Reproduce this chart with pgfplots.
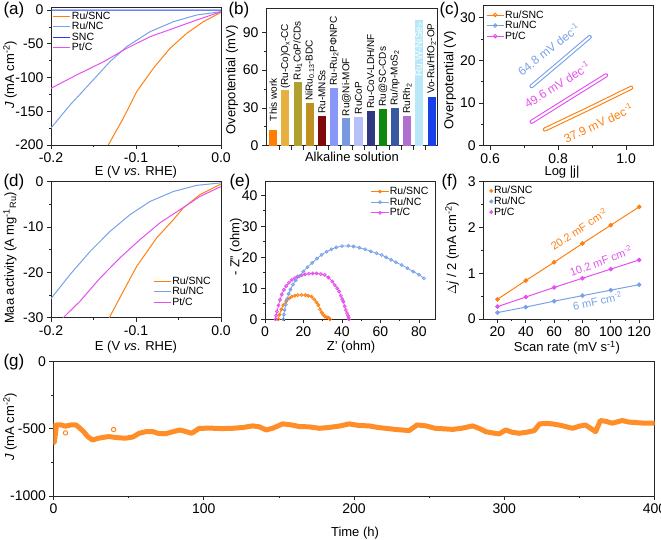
\documentclass[border=0pt]{standalone}
\usepackage{fontspec}
\setmainfont{Liberation Sans}
\usepackage{pgfplots}
\pgfplotsset{compat=1.18}
\definecolor{cOr}{RGB}{255,128,16}
\definecolor{cBl}{RGB}{120,162,232}
\definecolor{cDb}{RGB}{40,60,230}
\definecolor{cMg}{RGB}{230,80,240}
\definecolor{b1}{RGB}{255,128,0}
\definecolor{b2}{RGB}{232,176,64}
\definecolor{b3}{RGB}{176,160,48}
\definecolor{b4}{RGB}{192,144,32}
\definecolor{b5}{RGB}{128,10,10}
\definecolor{b6}{RGB}{136,152,248}
\definecolor{b7}{RGB}{120,152,224}
\definecolor{b8}{RGB}{184,192,248}
\definecolor{b9}{RGB}{48,56,128}
\definecolor{b10}{RGB}{16,136,16}
\definecolor{b11}{RGB}{56,88,160}
\definecolor{b12}{RGB}{176,112,208}
\definecolor{b13}{RGB}{184,232,248}
\definecolor{b14}{RGB}{24,64,232}
\newcommand{\lf}{\fontsize{13}{13}\selectfont}
\newcommand{\pf}{\fontsize{17}{17}\selectfont}
\pgfplotsset{every axis/.append style={scale only axis, anchor=south west,
  tick align=outside, tick pos=left,
  axis line style={black!85, line width=0.8pt},
  every tick/.append style={black!85, line width=0.7pt},
  major tick length=4pt, minor tick length=2.2pt, minor tick num=1,
  tick label style={font=\fontsize{14}{14}\selectfont},
  /pgf/number format/assume math mode=true,
  /pgf/number format/1000 sep={},
  legend cell align=left,
  legend style={draw=none, fill=none, font=\fontsize{10.5}{10.5}\selectfont,
    row sep=-0.5pt, inner sep=0pt, nodes={inner sep=1pt}}}}
\begin{document}
\begin{tikzpicture}
\useasboundingbox (0pt,0pt) rectangle (661pt,540pt);
% ---------------- (a)
\begin{axis}[at={(51pt,395pt)}, width=170pt, height=138pt,
  xmin=-0.2, xmax=0, ymin=-200, ymax=4.5,
  xtick={-0.2,-0.1,0}, ytick={-200,-150,-100,-50,0},
  xticklabel style={/pgf/number format/fixed,/pgf/number format/fixed zerofill,/pgf/number format/precision=1},
  legend style={at={(rel axis cs:0.01,0.975)}, anchor=north west}]
\addplot[cOr, line width=1pt] coordinates {(-0.1326,-200) (-0.115,-160.5) (-0.0992,-121) (-0.0796,-86.4) (-0.06,-56.8) (-0.0404,-34.6) (-0.0208,-17.3) (0,-3.5)};
\addplot[cBl, line width=1pt] coordinates {(-0.2,-175) (-0.1776,-140.7) (-0.154,-108.6) (-0.1306,-76.5) (-0.111,-54.3) (-0.0835,-32.1) (-0.056,-17.3) (-0.0286,-7.4) (0,-2.5)};
\addplot[cDb, line width=1pt] coordinates {(-0.2,-0.3) (-0.1,-0.3) (0,-0.2)};
\addplot[cMg, line width=1pt] coordinates {(-0.2,-116) (-0.17,-96.3) (-0.138,-76.5) (-0.111,-56.8) (-0.0835,-39.5) (-0.056,-27.2) (-0.0286,-14.8) (0,-2.5)};
\legend{Ru/SNC, Ru/NC, SNC, Pt/C}
\end{axis}
% ---------------- (b)
\begin{axis}[at={(266pt,394.3pt)}, width=171pt, height=137.7pt,
  xmin=0.4, xmax=14.45, ymin=0, ymax=109.3,
  ytick={0,30,60,90}, xtick={1.5,2.5,...,13.5}, xticklabels={}, minor x tick num=0]
\addplot[ybar, bar width=0.66, bar shift=0pt, fill=b1, draw=none] coordinates {(1,12.4)};
\addplot[ybar, bar width=0.66, bar shift=0pt, fill=b2, draw=none] coordinates {(2,44.2)};
\addplot[ybar, bar width=0.66, bar shift=0pt, fill=b3, draw=none] coordinates {(3,50.8)};
\addplot[ybar, bar width=0.66, bar shift=0pt, fill=b4, draw=none] coordinates {(4,33.6)};
\addplot[ybar, bar width=0.66, bar shift=0pt, fill=b5, draw=none] coordinates {(5,23.8)};
\addplot[ybar, bar width=0.66, bar shift=0pt, fill=b6, draw=none] coordinates {(6,45.5)};
\addplot[ybar, bar width=0.66, bar shift=0pt, fill=b7, draw=none] coordinates {(7,21.7)};
\addplot[ybar, bar width=0.66, bar shift=0pt, fill=b8, draw=none] coordinates {(8,23)};
\addplot[ybar, bar width=0.66, bar shift=0pt, fill=b9, draw=none] coordinates {(9,27.8)};
\addplot[ybar, bar width=0.66, bar shift=0pt, fill=b10, draw=none] coordinates {(10,29.1)};
\addplot[ybar, bar width=0.66, bar shift=0pt, fill=b11, draw=none] coordinates {(11,30.2)};
\addplot[ybar, bar width=0.66, bar shift=0pt, fill=b12, draw=none] coordinates {(12,23.8)};
\addplot[ybar, bar width=0.66, bar shift=0pt, fill=b13, draw=none] coordinates {(13,99.7)};
\addplot[ybar, bar width=0.66, bar shift=0pt, fill=b14, draw=none] coordinates {(14,38.9)};
\begin{scope}[every node/.style={rotate=90, anchor=west, inner sep=0.5pt, font=\fontsize{10}{10}\selectfont}]
\node at (axis cs:1,19) {This work};
\node at (axis cs:2,44.5) {(Ru-Co)O\textsubscript{x}-CC};
\node at (axis cs:3,51.5) {Ru\textsubscript{1}CoP/CDs};
\node at (axis cs:4,35) {NiRu\textsubscript{0.13}-BDC};
\node at (axis cs:5,25) {Ru-MNSs};
\node at (axis cs:6,47) {Ru-Ru\textsubscript{2}PΦNPC};
\node at (axis cs:7,23) {Ru@Ni-MOF};
\node at (axis cs:8,24.5) {RuCoP};
\node at (axis cs:9,29) {Ru-CoV-LDH/NF};
\node at (axis cs:10,30.5) {Ru@SC-CDs};
\node at (axis cs:11,31.5) {Ru/np-MoS\textsubscript{2}};
\node at (axis cs:12,25) {RuRh\textsubscript{2}};
\node[anchor=east, text=white] at (axis cs:13,98.5) {Ru,W-NiSe\textsubscript{2}};
\node at (axis cs:14,40.5) {Vo-Ru/HfO\textsubscript{2}-OP};
\end{scope}
\end{axis}
% ---------------- (c)
\begin{axis}[at={(483.3pt,394.3pt)}, width=170pt, height=140.7pt,
  xmin=0.58, xmax=1.08, ymin=0, ymax=33,
  xtick={0.6,0.8,1.0}, ytick={0,10,20,30},
  xticklabel style={/pgf/number format/fixed,/pgf/number format/fixed zerofill,/pgf/number format/precision=1},
  legend style={at={(rel axis cs:0.016,0.97)}, anchor=north west}]
\addplot[forget plot, cBl, line width=1.1pt, double=white, double distance=2pt, line cap=round] coordinates {(0.722,13.95) (0.80,19.2) (0.893,25.5)};
\addplot[forget plot, cMg, line width=1.1pt, double=white, double distance=2pt, line cap=round] coordinates {(0.722,5.6) (0.83,11.0) (0.941,16.5)};
\addplot[forget plot, cOr, line width=1.1pt, double=white, double distance=2pt, line cap=round] coordinates {(0.761,3.8) (0.89,8.7) (1.015,13.6)};
\addlegendimage{cOr, line width=0.9pt, mark=o, mark size=1.8pt}
\addlegendentry{Ru/SNC}
\addlegendimage{cBl, line width=0.9pt, mark=o, mark size=1.8pt}
\addlegendentry{Ru/NC}
\addlegendimage{cMg, line width=0.9pt, mark=o, mark size=1.8pt}
\addlegendentry{Pt/C}
\node[rotate=38, text=cBl, font=\fontsize{12}{12}\selectfont] at (axis cs:0.772,22.6) {64.8 mV dec\textsuperscript{-1}};
\node[rotate=32, text=cMg, font=\fontsize{12}{12}\selectfont] at (axis cs:0.797,14.3) {49.6 mV dec\textsuperscript{-1}};
\node[rotate=25, text=cOr, font=\fontsize{12}{12}\selectfont] at (axis cs:0.918,5.3) {37.9 mV dec\textsuperscript{-1}};
\end{axis}
% ---------------- (d)
\begin{axis}[at={(51pt,222.3pt)}, width=170pt, height=136.2pt,
  xmin=-0.2, xmax=0, ymin=-30, ymax=0,
  xtick={-0.2,-0.1,0}, ytick={-30,-20,-10,0},
  xticklabel style={/pgf/number format/fixed,/pgf/number format/fixed zerofill,/pgf/number format/precision=1},
  legend style={at={(rel axis cs:0.6,0.31)}, anchor=north west}]
\addplot[cOr, line width=1pt] coordinates {(-0.1314,-30) (-0.115,-24.2) (-0.0992,-18.7) (-0.0756,-12.4) (-0.056,-8.4) (-0.0443,-5.8) (-0.0247,-2.9) (0,-0.55)};
\addplot[cBl, line width=1pt] coordinates {(-0.2,-25.8) (-0.1776,-20.5) (-0.154,-15.4) (-0.1306,-11) (-0.107,-7.3) (-0.0835,-4.4) (-0.056,-2.2) (-0.0286,-0.85) (0,-0.3)};
\addplot[cMg, line width=1pt] coordinates {(-0.1855,-30) (-0.178,-28.6) (-0.166,-26.4) (-0.1424,-21.3) (-0.1188,-16.8) (-0.0953,-12.8) (-0.0718,-9.1) (-0.0482,-6.2) (-0.0247,-3.3) (0,-1.1)};
\legend{Ru/SNC, Ru/NC, Pt/C}
\end{axis}
% ---------------- (e)
\begin{axis}[at={(265pt,220.7pt)}, width=170.7pt, height=137.6pt,
  xmin=0, xmax=88.7, ymin=0, ymax=44.4,
  xtick={0,20,40,60,80}, ytick={0,10,20,30,40},
  legend style={at={(rel axis cs:0.62,0.97)}, anchor=north west}]
\addplot[forget plot, cOr, line width=0.8pt, mark=o, mark size=1.5pt] coordinates {(6.9,0) (7.5,1.5) (8.5,3.2) (9.5,4.6) (11,5.8) (12.5,6.7) (13.9,7.3) (15.5,7.6) (17,7.8) (19,7.85) (21,7.8) (22.5,7.6) (24.2,7.3) (25.5,6.5) (26.7,5.5) (27.7,4.6) (28.6,3.2) (29.5,2.2) (30.3,1.4) (31.2,0.9) (32.2,0.6) (33,0.5) (33.8,0)};
\addplot[forget plot, cMg, line width=0.8pt, mark=o, mark size=1.5pt] coordinates {(5.5,0) (5.8,1.2) (6.2,2.5) (7,4.5) (7.8,6.3) (8.7,8) (9.8,9.5) (11,10.7) (12.4,11.8) (13.9,12.7) (15.5,13.3) (17,13.8) (19,14.2) (20.8,14.5) (22.8,14.7) (24.8,14.8) (26.8,14.8) (29,14.6) (31,14.3) (33,13.5) (35,12.2) (36.3,11) (37.5,10) (38.5,9) (39.4,7.6) (40.1,6.5) (40.7,5.7) (41.4,4.2) (42,3) (42.6,2) (43.1,1.2) (43.4,0.6) (43.6,0)};
\addplot[forget plot, cBl, line width=0.8pt, mark=o, mark size=1.5pt] coordinates {(9.5,0) (9.8,1.5) (10.2,3) (10.8,4.8) (11.5,6.5) (12.3,8.2) (13.2,9.6) (14.5,11.2) (16,12.6) (17.8,13.9) (19.9,15.4) (22,16.8) (24.5,18.2) (27,19.6) (29.4,20.8) (32,21.8) (34.5,22.6) (37,23.2) (40,23.6) (43.3,23.7) (46,23.5) (49,23.1) (52,22.6) (55,21.9) (58,21.3) (60.6,20.75) (63,20) (65.5,19.2) (68,18.4) (71,17.5) (74,16.5) (77,15.4) (80,14.4) (82.6,13.2)};
\addlegendimage{cOr, line width=0.8pt, mark=o, mark size=1.5pt}
\addlegendentry{Ru/SNC}
\addlegendimage{cBl, line width=0.8pt, mark=o, mark size=1.5pt}
\addlegendentry{Ru/NC}
\addlegendimage{cMg, line width=0.8pt, mark=o, mark size=1.5pt}
\addlegendentry{Pt/C}
\end{axis}
% ---------------- (f)
\begin{axis}[at={(483.3pt,221pt)}, width=170pt, height=137.3pt,
  xmin=10, xmax=130, ymin=0, ymax=3,
  xtick={20,40,60,80,100,120}, ytick={0,1,2,3},
  legend style={at={(rel axis cs:0.035,0.975)}, anchor=north west},
  legend image code/.code={\draw[#1] plot coordinates {(0.15cm,0cm)};}]
\addplot[forget plot, cOr, line width=1pt, mark=*, mark size=1.8pt] coordinates {(20,0.43) (40,0.84) (60,1.24) (80,1.65) (100,2.05) (120,2.45)};
\addplot[forget plot, cBl, line width=1pt, mark=*, mark size=1.8pt] coordinates {(20,0.14) (40,0.26) (60,0.39) (80,0.51) (100,0.63) (120,0.75)};
\addplot[forget plot, cMg, line width=1pt, mark=*, mark size=1.8pt] coordinates {(20,0.27) (40,0.48) (60,0.69) (80,0.89) (100,1.09) (120,1.29)};
\addlegendimage{cOr, mark=*, mark size=1.8pt}
\addlegendentry{Ru/SNC}
\addlegendimage{cBl, mark=*, mark size=1.8pt}
\addlegendentry{Ru/NC}
\addlegendimage{cMg, mark=*, mark size=1.8pt}
\addlegendentry{Pt/C}
\node[rotate=33, text=cOr, font=\fontsize{11}{11}\selectfont] at (axis cs:77.5,1.97) {20.2 mF cm\textsuperscript{-2}};
\node[rotate=20, text=cMg, font=\fontsize{11}{11}\selectfont] at (axis cs:93,1.27) {10.2 mF cm\textsuperscript{-2}};
\node[rotate=12, text=cBl, font=\fontsize{11}{11}\selectfont] at (axis cs:90.6,0.4) {6 mF cm\textsuperscript{-2}};
\end{axis}
% ---------------- (g)
\begin{axis}[at={(53.5pt,44pt)}, width=601pt, height=134.3pt,
  xmin=0, xmax=400, ymin=-1000, ymax=0,
  xtick={0,100,200,300,400}, ytick={-1000,-500,0}]
\addplot[cOr!90, line width=5pt, line join=round] coordinates {
(0,-460) (0.5,-600) (1,-560) (2,-470) (5,-471) (8,-480) (12,-470) (15,-471) (17,-490) (20,-520) (23,-560) (26,-583) (30,-570) (35,-560) (37,-558) (42,-565) (48,-570) (53,-560) (57,-533) (62,-520) (66,-520) (70,-535) (75,-535) (80,-520) (84,-508) (88,-520) (92,-533) (97,-496) (105,-495) (112,-498) (119,-496) (126,-490) (132.6,-478) (137,-485) (141.5,-508) (146,-495) (152.5,-463) (158,-470) (163.6,-483) (170,-485) (177,-496) (183,-490) (190,-480) (196.9,-463) (203,-475) (210,-478) (216,-490) (221,-496) (228,-505) (236.7,-513) (242,-471) (248,-478) (254,-496) (260,-500) (265.7,-504) (272,-495) (279,-478) (284,-500) (287.7,-521) (292,-530) (296.6,-538) (301,-508) (305,-525) (310,-533) (315,-525) (320,-513) (323.5,-463) (328,-460) (332,-463) (338,-475) (345.5,-496) (350,-480) (354,-471) (358,-500) (360.8,-521) (364,-438) (368,-445) (372,-458) (378.5,-438) (383,-450) (387.5,-453) (393,-458) (400,-458)};
\addplot[only marks, cOr, mark=o, mark size=2.2pt, line width=0.9pt] coordinates {(8,-530) (40,-505)};
\end{axis}
% ---------------- labels
\node[font=\pf, anchor=west] at (0pt,530pt) {(a)};
\node[font=\pf, anchor=west] at (225pt,530pt) {(b)};
\node[font=\pf, anchor=west] at (436pt,530pt) {(c)};
\node[font=\pf, anchor=west] at (0pt,358pt) {(d)};
\node[font=\pf, anchor=west] at (226pt,358pt) {(e)};
\node[font=\pf, anchor=west] at (438pt,358pt) {(f)};
\node[font=\pf, anchor=west] at (0pt,177.5pt) {(g)};
\node[font=\lf, rotate=90] at (10pt,465pt) {\textit{J} (mA cm\textsuperscript{-2})};
\node[font=\lf, rotate=90] at (232pt,460pt) {Overpotential (mV)};
\node[font=\lf, rotate=90] at (450pt,460pt) {Overpotential (V)};
\node[font=\lf, rotate=90] at (10pt,282pt) {Maa activity (A mg\textsuperscript{-1}\textsubscript{Ru})};
\node[font=\lf, rotate=90] at (236pt,293pt) {- Z'' (ohm)};
\node[font=\lf, rotate=90] at (452pt,292pt) {$\Delta$\textit{j} / 2 (mA cm\textsuperscript{-2})};
\node[font=\lf, rotate=90] at (10pt,113pt) {\textit{J} (mA cm\textsuperscript{-2})};
\node[font=\lf] at (136pt,368pt) {E (V \textit{vs}. RHE)};
\node[font=\lf] at (352pt,383pt) {Alkaline solution};
\node[font=\lf] at (562pt,368pt) {Log |j|};
\node[font=\lf] at (136pt,193pt) {E (V \textit{vs}. RHE)};
\node[font=\lf] at (351pt,193pt) {Z' (ohm)};
\node[font=\lf] at (567pt,192pt) {Scan rate (mV s\textsuperscript{-1})};
\node[font=\lf] at (355pt,7pt) {Time (h)};
\end{tikzpicture}
\end{document}
